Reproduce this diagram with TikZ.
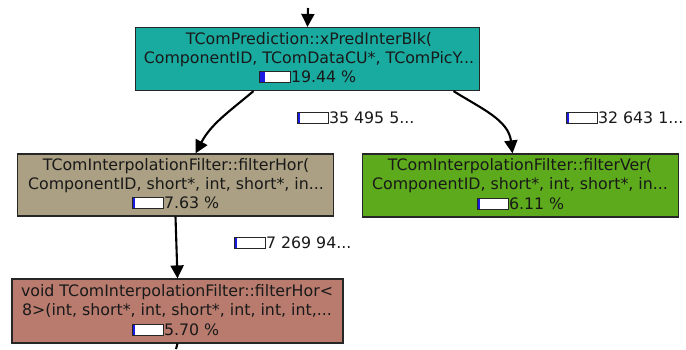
\documentclass[tikz,border=0pt]{standalone}
\usepackage{fontspec}
\setmainfont{DejaVu Sans}
\usetikzlibrary{arrows.meta}
\definecolor{predcol}{HTML}{1AABA0}
\definecolor{horcol}{HTML}{ABA083}
\definecolor{vercol}{HTML}{5DAA1C}
\definecolor{tmplcol}{HTML}{B87B6E}
\definecolor{barblue}{HTML}{1A1AE0}
\tikzset{
  fnbox/.style={draw=black!85, line width=1.2pt, rectangle, inner sep=0pt},
  lbl/.style={inner sep=0pt, font=\fontsize{15.8}{18}\selectfont, text=black!90},
  edge/.style={draw=black, line width=2.1pt, -{Triangle[length=13pt,width=13pt]}},
  barframe/.style={draw=black!85, line width=0.8pt, fill=white, minimum width=31pt, minimum height=11pt, inner sep=0pt, rectangle},
}
% percentage bar: name, position of left edge centre, filled width
\newcommand\pctbar[3]{%
  \node[barframe, anchor=west] (#1) at (#2) {};
  \fill[barblue] ([xshift=0.6pt,yshift=-0.6pt]#1.north west) rectangle ++(#3,9.8);
}
\begin{document}
\begin{tikzpicture}[x=1pt,y=-1pt]
\useasboundingbox (0,0) rectangle (686,349);

% function boxes
\node[fnbox, fill=predcol, minimum width=344pt, minimum height=63pt] (pred) at (307.5,59) {};
\node[fnbox, fill=horcol, minimum width=316pt, minimum height=62pt] (hor) at (175.5,185) {};
\node[fnbox, fill=vercol, minimum width=316pt, minimum height=63pt] (ver) at (520.5,185.5) {};
\node[fnbox, fill=tmplcol, minimum width=331pt, minimum height=64pt] (tmpl) at (177.5,311) {};

% texts inside boxes
\node[lbl] (pred1) at (309,40) {TComPrediction::xPredInterBlk(};
\node[lbl] (pred2) at (309,59) {ComponentID, TComDataCU*, TComPicY...};
\pctbar{predbar}{259,77}{5}
\node[lbl, anchor=west] (predp) at (predbar.east) {19.44 \%};

\node[lbl] (hor1) at (176,166) {TComInterpolationFilter::filterHor(};
\node[lbl] (hor2) at (176,185) {ComponentID, short*, int, short*, in...};
\pctbar{horbar}{132,203}{2}
\node[lbl, anchor=west] (horp) at (horbar.east) {7.63 \%};

\node[lbl] (ver1) at (520,166) {TComInterpolationFilter::filterVer(};
\node[lbl] (ver2) at (520,185) {ComponentID, short*, int, short*, in...};
\pctbar{verbar}{477,204}{2}
\node[lbl, anchor=west] (verp) at (verbar.east) {6.11 \%};

\node[lbl] (tmpl1) at (177,292) {void TComInterpolationFilter::filterHor<};
\node[lbl] (tmpl2) at (177,311) {8>(int, short*, int, short*, int, int, int,...};
\pctbar{tmplbar}{132,330}{2}
\node[lbl, anchor=west] (tmplp) at (tmplbar.east) {5.70 \%};

% connectors
\coordinate (in0) at (308,8);
\coordinate (out0) at (176,349);
\draw[edge] (in0) -- (pred.north);
\draw[edge] ([xshift=-54pt]pred.south) to[out=-140,in=62] ([xshift=20pt]hor.north);
\draw[edge] ([xshift=146pt]pred.south) to[out=-32,in=97] ([xshift=-8pt]ver.north);
\draw[edge] (hor.south) -- (tmpl.north);
\draw[line width=2.1pt] (tmpl.south) -- (out0);

% edge labels
\pctbar{e1bar}{297,118}{2}
\node[lbl, anchor=west] (e1) at (e1bar.east) {35 495 5...};
\pctbar{e2bar}{566,118}{2}
\node[lbl, anchor=west] (e2) at (e2bar.east) {32 643 1...};
\pctbar{e3bar}{234,243}{2}
\node[lbl, anchor=west] (e3) at (e3bar.east) {7 269 94...};
\end{tikzpicture}
\end{document}
